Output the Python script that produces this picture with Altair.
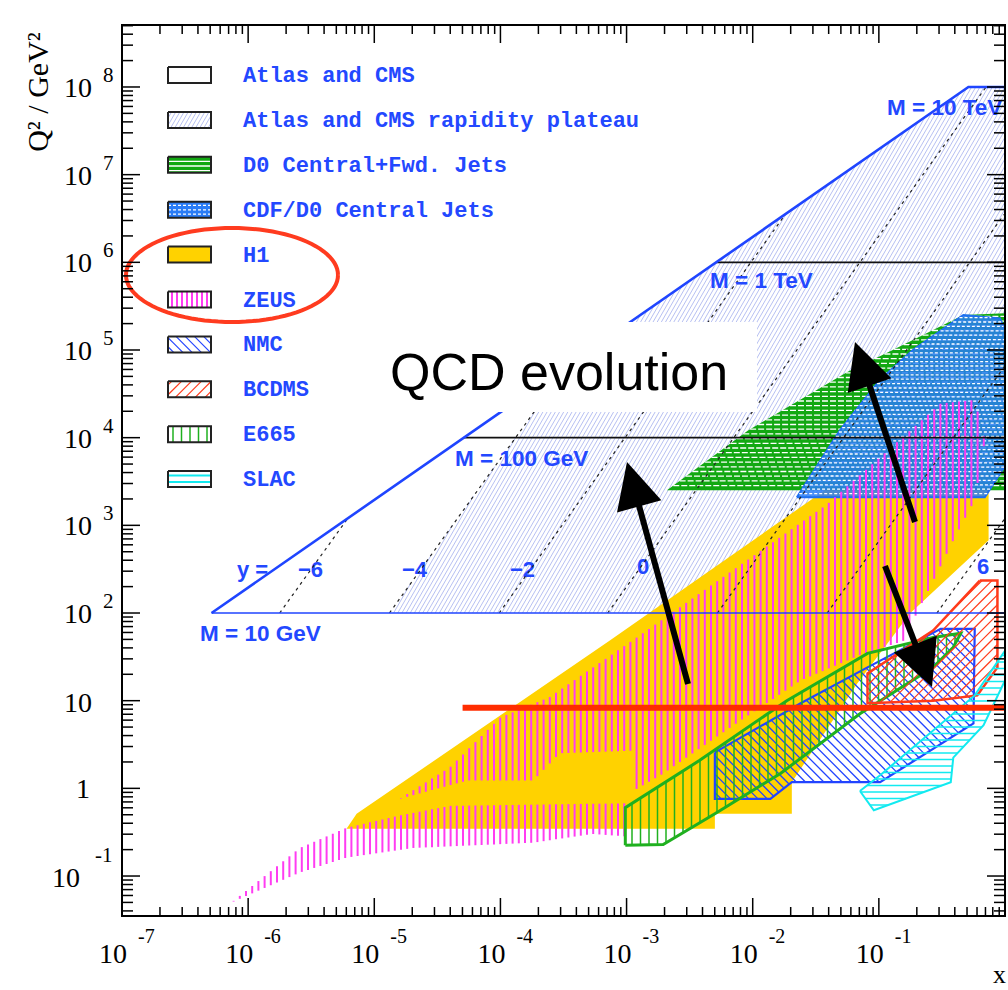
import numpy as np
import pandas as pd
import altair as alt

# ---------------- axis ranges (log10 units) ----------------
XMIN, XMAX = -7.0, 0.0
YMIN, YMAX = -1.456, 8.707
W, H = 883, 891
LEFT, TOP = 122, 25

# ---------------- data (log10 x, log10 Q^2) ----------------
PLATEAU_LX = [-4.88, -3.47, -0.29, 0.0, 0.0, -1.41]
PLATEAU_LQ = [2.0, 4.82, 8.0, 8.0, 4.82, 2.0]

H1_LX = [-5.22, -5.14, -3.13, -1.20, -0.13, -0.13, -0.75, -1.17, -1.69, -1.69, -2.30, -2.30]
H1_LQ = [-0.46, -0.29, 1.69, 3.63, 3.63, 2.83, 2.00, 1.20, 0.07, -0.29, -0.29, -0.46]

ZEUS_A_LX = [-4.80, -4.40, -4.00, -3.61, -2.95, -1.41, -0.51, -0.24, -0.16, -0.24, -0.41, -0.54,
             -0.70, -0.79, -1.15, -1.62, -2.10, -2.73, -2.95, -2.95, -3.53, -3.74, -4.26]
ZEUS_A_LQ = [-0.12, 0.24, 0.81, 1.04, 1.69, 3.24, 4.39, 4.43, 3.97, 3.29, 2.83, 2.45,
             2.00, 1.69, 1.52, 1.23, 0.77, 0.15, -0.03, 0.43, 0.40, 0.09, 0.09]
ZEUS_B_LX = [-6.13, -5.59, -5.22, -4.80, -4.40, -2.99, -2.99, -3.27, -3.74, -4.69, -5.22, -5.59]
ZEUS_B_LQ = [-1.30, -0.68, -0.45, -0.31, -0.20, -0.17, -0.55, -0.52, -0.62, -0.68, -0.79, -0.96]

D0_LX = [-2.68, -2.04, -1.25, -0.89, -0.33, 0.0, 0.0]
D0_LQ = [3.40, 4.08, 4.75, 5.00, 5.40, 5.42, 3.40]

CDF_LX = [-1.65, -1.31, -0.99, -0.73, -0.33, -0.04, 0.0, 0.0, -0.16]
CDF_LQ = [3.32, 4.08, 4.66, 5.00, 5.40, 5.36, 5.23, 3.68, 3.32]

E665_LX = [-3.01, -3.01, -2.42, -1.73, -1.09, -0.57, -0.35, -0.41, -0.57, -1.15, -1.78, -2.30, -2.71]
E665_LQ = [-0.65, -0.22, 0.32, 1.00, 1.54, 1.72, 1.77, 1.61, 1.38, 0.85, 0.17, -0.29, -0.64]

NMC_LX = [-2.30, -2.30, -1.86, -1.69, -0.99, -0.25, -0.24, -0.51, -1.09, -1.62]
NMC_LQ = [0.41, -0.12, -0.12, 0.07, 0.07, 0.74, 1.82, 1.82, 1.38, 0.97]

BCDMS_LX = [-0.20, -0.06, -0.06, -0.22, -0.57, -1.09, -1.09, -0.57]
BCDMS_LQ = [2.37, 2.37, 1.38, 1.06, 1.00, 0.97, 1.31, 1.80]

SLAC_LX = [-1.15, -1.04, -0.43, -0.41, -0.17, 0.0, 0.0, -0.24, -0.99]
SLAC_LQ = [-0.03, -0.25, 0.07, 0.35, 0.72, 1.23, 1.57, 1.06, 0.15]

# Atlas/CMS kinematic lines
BLUE_EDGE_LX = [-6.29, -0.29, 0.0]
BLUE_EDGE_LQ = [2.0, 8.0, 8.0]
MASS_LINE_LX0 = [-6.29, -4.29, -2.29]      # M = 10 GeV, 100 GeV, 1 TeV
MASS_LINE_LQ = [2.0, 4.0, 6.0]
RAPIDITY = [-6, -4, -2, 0, 2, 4, 6]
RAP_LX0 = [-5.75, -4.88, -4.01, -3.15, -2.28, -1.41, -0.54]
RAP_LQ0 = [2.0, 2.0, 2.0, 2.0, 2.0, 2.0, 2.0]
RAP_LX1 = [-5.21, -3.47, -1.74, -0.15, 0.0, 0.0, 0.0]
RAP_LQ1 = [3.08, 4.82, 6.55, 8.0, 6.56, 4.82, 3.08]

RED_LINE_LX = [-4.30, 0.0]
RED_LINE_LQ = 0.92

LEGEND_LABELS = ["Atlas and CMS", "Atlas and CMS rapidity plateau", "D0 Central+Fwd. Jets",
                 "CDF/D0 Central Jets", "H1", "ZEUS", "NMC", "BCDMS", "E665", "SLAC"]

X_TICK_EXP = [-7, -6, -5, -4, -3, -2, -1]
Y_TICK_EXP = [2, 3, 4, 5, 6, 7, 8]

# ---------------- colours ----------------
YELLOW = "#ffd200"
MAGENTA = "#ff3cf2"
D0_GREEN = "#12a812"
CDF_BLUE = "#2a7cf6"
NMC_BLUE = "#2244ff"
BCDMS_RED = "#ff3a1a"
E665_GREEN = "#1fb01f"
SLAC_CYAN = "#12eaf0"
PLATEAU_COL = "#b7c0f2"
ATLAS_BLUE = "#1f45ff"
LABEL_BLUE = "#2348ff"
RED_LINE = "#ff2d00"

# ---------------- helpers ----------------
XS = alt.Scale(type="log", domain=[10 ** XMIN, 10 ** XMAX], nice=False)
YS = alt.Scale(type="log", domain=[10 ** YMIN, 10 ** YMAX], nice=False)


def X(f="x"):
    return alt.X(f"{f}:Q", scale=XS, axis=None)


def Y(f="y"):
    return alt.Y(f"{f}:Q", scale=YS, axis=None)


def to_px(lx, lq):
    lx = np.asarray(lx, float)
    lq = np.asarray(lq, float)
    return (lx - XMIN) / (XMAX - XMIN) * W, (YMAX - lq) / (YMAX - YMIN) * H


def px_to_log(px, py):
    px = np.asarray(px, float)
    py = np.asarray(py, float)
    return XMIN + px / W * (XMAX - XMIN), YMAX - py / H * (YMAX - YMIN)


def page_log(px, py):
    return px_to_log(np.asarray(px, float) - LEFT, np.asarray(py, float) - TOP)


def page(px, py):
    a, b = page_log(px, py)
    return 10 ** a, 10 ** b


def poly_df(lx, lq):
    lx = list(lx) + [lx[0]]
    lq = list(lq) + [lq[0]]
    return pd.DataFrame({"x": 10 ** np.array(lx, float), "y": 10 ** np.array(lq, float),
                         "o": np.arange(len(lx))})


def poly_layer(lx, lq, fill=None, stroke=None, sw=1.5, fo=1.0, closed=True):
    kw = {}
    if fill:
        kw["fill"] = fill
        kw["fillOpacity"] = fo
    if stroke:
        kw["stroke"] = stroke
        kw["strokeWidth"] = sw
    else:
        kw["stroke"] = "transparent"
        kw["strokeWidth"] = 0
    df = poly_df(lx, lq) if closed else pd.DataFrame(
        {"x": 10 ** np.array(lx, float), "y": 10 ** np.array(lq, float), "o": np.arange(len(lx))})
    return alt.Chart(df).mark_line(**kw).encode(x=X(), y=Y(), order="o:Q")


def hatch_df(lx, lq, angle, spacing, offset=0.0):
    Xp, Yp = to_px(lx, lq)
    P = np.stack([Xp, Yp], 1)
    th = np.radians(angle)
    d = np.array([np.cos(th), np.sin(th)])
    n = np.array([-np.sin(th), np.cos(th)])
    t = P @ n
    m = len(P)
    rows = []
    k0 = int(np.ceil((t.min() - offset) / spacing))
    k1 = int(np.floor((t.max() - offset) / spacing))
    for k in range(k0, k1 + 1):
        c = offset + k * spacing
        pts = []
        for i in range(m):
            j = (i + 1) % m
            ta, tb = t[i], t[j]
            if (ta <= c < tb) or (tb <= c < ta):
                f = (c - ta) / (tb - ta)
                pts.append(P[i] + f * (P[j] - P[i]))
        pts.sort(key=lambda p: p @ d)
        for q in range(0, len(pts) - 1, 2):
            a, b = pts[q], pts[q + 1]
            la = px_to_log(a[0], a[1])
            lb = px_to_log(b[0], b[1])
            rows.append((10 ** la[0], 10 ** la[1], 10 ** lb[0], 10 ** lb[1]))
    return pd.DataFrame(rows, columns=["x", "y", "x2", "y2"])


def hatch_layer(lx, lq, angle, spacing, color, sw=1.0, dash=None, offset=0.0, opacity=1.0):
    df = hatch_df(lx, lq, angle, spacing, offset)
    kw = dict(color=color, strokeWidth=sw, opacity=opacity)
    if dash:
        kw["strokeDash"] = dash
    return alt.Chart(df).mark_rule(**kw).encode(x=X(), y=Y(), x2="x2:Q", y2="y2:Q")


layers = []

# ---------------- Atlas/CMS rapidity plateau hatch ----------------
layers.append(hatch_layer(PLATEAU_LX, PLATEAU_LQ, -60, 3.6, PLATEAU_COL, 1.0))

# rapidity labels (partly hidden by H1)
ylab_pos = [(237, 577, "y ="), (298, 577, "\u22126"), (402, 577, "\u22124"), (510, 577, "\u22122"),
            (637, 574, "0"), (745, 574, "2"), (860, 574, "4"), (977, 574, "6")]
px_, py_ = page([p[0] for p in ylab_pos], [p[1] for p in ylab_pos])
layers.append(alt.Chart(pd.DataFrame({"x": px_, "y": py_, "t": [p[2] for p in ylab_pos]}))
              .mark_text(align="left", baseline="alphabetic", font="Liberation Sans",
                         fontWeight="bold", fontSize=22, color=LABEL_BLUE)
              .encode(x=X(), y=Y(), text="t:N"))

# ---------------- HERA ----------------
layers.append(poly_layer(H1_LX, H1_LQ, fill=YELLOW))

# ---------------- Tevatron jets ----------------
layers.append(poly_layer(D0_LX, D0_LQ, fill=D0_GREEN))
layers.append(hatch_layer(D0_LX, D0_LQ, 0, 4.7, "white", 1.3, dash=[6, 2]))
layers.append(poly_layer(CDF_LX, CDF_LQ, fill=CDF_BLUE, fo=0.85, stroke="#1e6ff0", sw=2))
layers.append(hatch_layer(CDF_LX, CDF_LQ, 0, 4.4, "white", 1.3, dash=[3, 2], offset=2.2))

# ZEUS vertical stripes
layers.append(hatch_layer(ZEUS_A_LX, ZEUS_A_LQ, 90, 6.2, MAGENTA, 2.0))
layers.append(hatch_layer(ZEUS_B_LX, ZEUS_B_LQ, 90, 6.2, MAGENTA, 2.0))

# ---------------- fixed target ----------------
layers.append(hatch_layer(NMC_LX, NMC_LQ, 45, 6.5, NMC_BLUE, 1.3))
layers.append(poly_layer(NMC_LX, NMC_LQ, stroke=NMC_BLUE, sw=2.2))
layers.append(hatch_layer(E665_LX, E665_LQ, 90, 8.5, E665_GREEN, 1.5))
layers.append(poly_layer(E665_LX, E665_LQ, stroke=E665_GREEN, sw=3))
layers.append(hatch_layer(BCDMS_LX, BCDMS_LQ, -45, 7.0, BCDMS_RED, 1.2))
layers.append(poly_layer(BCDMS_LX, BCDMS_LQ, stroke=BCDMS_RED, sw=2.5))
layers.append(hatch_layer(SLAC_LX, SLAC_LQ, 0, 6.5, SLAC_CYAN, 1.5))
layers.append(poly_layer(SLAC_LX, SLAC_LQ, stroke=SLAC_CYAN, sw=2))

# ---------------- Atlas/CMS lines ----------------
rap_df = pd.DataFrame({"x": 10 ** np.array(RAP_LX0), "y": 10 ** np.array(RAP_LQ0),
                       "x2": 10 ** np.array(RAP_LX1), "y2": 10 ** np.array(RAP_LQ1)})
layers.append(alt.Chart(rap_df).mark_rule(color="#222222", strokeWidth=1.2, strokeDash=[3, 4])
              .encode(x=X(), y=Y(), x2="x2:Q", y2="y2:Q"))
mass_df = pd.DataFrame({"x": 10 ** np.array(MASS_LINE_LX0), "y": 10 ** np.array(MASS_LINE_LQ),
                        "x2": [1.0, 1.0, 1.0], "y2": 10 ** np.array(MASS_LINE_LQ),
                        "c": ["blue", "black", "black"]})
layers.append(alt.Chart(mass_df[mass_df.c == "black"]).mark_rule(color="#111111", strokeWidth=1.6)
              .encode(x=X(), y=Y(), x2="x2:Q", y2="y2:Q"))
layers.append(alt.Chart(mass_df[mass_df.c == "blue"]).mark_rule(color=ATLAS_BLUE, strokeWidth=1.6)
              .encode(x=X(), y=Y(), x2="x2:Q", y2="y2:Q"))
layers.append(poly_layer(BLUE_EDGE_LX, BLUE_EDGE_LQ, stroke=ATLAS_BLUE, sw=2.6, closed=False))

mlab = [(200, 641, "M = 10 GeV"), (455, 466, "M = 100 GeV"), (710, 288, "M = 1 TeV"),
        (887, 115, "M = 10 TeV")]
mx, my = page([p[0] for p in mlab], [p[1] for p in mlab])
layers.append(alt.Chart(pd.DataFrame({"x": mx, "y": my, "t": [p[2] for p in mlab]}))
              .mark_text(align="left", baseline="alphabetic", font="Liberation Sans",
                         fontWeight="bold", fontSize=22.5, color=LABEL_BLUE)
              .encode(x=X(), y=Y(), text="t:N"))

# ---------------- red horizontal line ----------------
layers.append(alt.Chart(pd.DataFrame({"x": [10 ** RED_LINE_LX[0]], "x2": [10 ** RED_LINE_LX[1]],
                                      "y": [10 ** RED_LINE_LQ]}))
              .mark_rule(color=RED_LINE, strokeWidth=6).encode(x=X(), x2="x2:Q", y=Y()))

# ---------------- arrows ----------------
ARROW_TAIL = [(688, 684), (915, 522), (885, 566)]
ARROW_TIP = [(627, 462), (855, 342), (932, 687)]
HEAD = "M0,-1L1,1L-1,1Z"
for (tx, ty), (hx, hy) in zip(ARROW_TAIL, ARROW_TIP):
    dx, dy = hx - tx, hy - ty
    L = np.hypot(dx, dy)
    ux, uy = dx / L, dy / L
    cx, cy = hx - 23 * ux, hy - 23 * uy
    ang = float(np.degrees(np.arctan2(dx, -dy)) % 360)
    ax0, ay0 = page(tx, ty)
    ax1, ay1 = page(cx, cy)
    layers.append(alt.Chart(pd.DataFrame({"x": [ax0], "y": [ay0], "x2": [ax1], "y2": [ay1]}))
                  .mark_rule(color="black", strokeWidth=6)
                  .encode(x=X(), y=Y(), x2="x2:Q", y2="y2:Q"))
    layers.append(alt.Chart(pd.DataFrame({"x": [ax1], "y": [ay1]}))
                  .mark_point(shape=HEAD, size=2116, filled=True, color="black", opacity=1,
                              angle=ang)
                  .encode(x=X(), y=Y()))

# ---------------- QCD evolution box ----------------
bx0, by0 = page(378, 322)
bx1, by1 = page(757, 412)
layers.append(alt.Chart(pd.DataFrame({"x": [bx0], "x2": [bx1], "y": [by0], "y2": [by1]}))
              .mark_rect(color="white", opacity=1).encode(x=X(), x2="x2:Q", y=Y(), y2="y2:Q"))
qx, qy = page(390, 390)
layers.append(alt.Chart(pd.DataFrame({"x": [qx], "y": [qy], "t": ["QCD evolution"]}))
              .mark_text(align="left", baseline="alphabetic", font="Liberation Sans",
                         fontSize=52, color="black")
              .encode(x=X(), y=Y(), text="t:N"))

# ---------------- legend ----------------
SW_X0, SW_X1 = 168, 211
for i, lab in enumerate(LEGEND_LABELS):
    cy = 75 + 44.9 * i
    rlx, rlq = page_log([SW_X0, SW_X1, SW_X1, SW_X0], [cy - 8, cy - 8, cy + 8, cy + 8])
    rlx, rlq = list(rlx), list(rlq)
    if i == 0:
        layers.append(poly_layer(rlx, rlq, fill="white"))
    elif i == 1:
        layers.append(hatch_layer(rlx, rlq, -60, 3.6, PLATEAU_COL, 1.0))
    elif i == 2:
        layers.append(poly_layer(rlx, rlq, fill=D0_GREEN))
        layers.append(hatch_layer(rlx, rlq, 0, 4.7, "white", 1.3))
    elif i == 3:
        layers.append(poly_layer(rlx, rlq, fill=CDF_BLUE))
        layers.append(hatch_layer(rlx, rlq, 0, 4.4, "white", 1.3, dash=[3, 2]))
    elif i == 4:
        layers.append(poly_layer(rlx, rlq, fill=YELLOW))
    elif i == 5:
        layers.append(hatch_layer(rlx, rlq, 90, 5.0, MAGENTA, 2.0))
    elif i == 6:
        layers.append(hatch_layer(rlx, rlq, 45, 6.5, NMC_BLUE, 1.2))
    elif i == 7:
        layers.append(hatch_layer(rlx, rlq, -45, 7.0, BCDMS_RED, 1.2))
    elif i == 8:
        layers.append(hatch_layer(rlx, rlq, 90, 8.5, E665_GREEN, 1.5))
    elif i == 9:
        layers.append(hatch_layer(rlx, rlq, 0, 6.5, SLAC_CYAN, 2.0, offset=2))
    layers.append(poly_layer(rlx, rlq, stroke="#222222", sw=2))
lgx, lgy = page([243] * len(LEGEND_LABELS), [75 + 44.9 * i for i in range(len(LEGEND_LABELS))])
layers.append(alt.Chart(pd.DataFrame({"x": lgx, "y": lgy, "t": LEGEND_LABELS}))
              .mark_text(align="left", baseline="middle", font="Liberation Mono", fontWeight="bold",
                         fontSize=22, color=LABEL_BLUE)
              .encode(x=X(), y=Y(), text="t:N"))

# ---------------- red ellipse ----------------
tt = np.linspace(0, 2 * np.pi, 97)
ex_, ey_ = page(232 + 106 * np.cos(tt), 275 + 47 * np.sin(tt))
layers.append(alt.Chart(pd.DataFrame({"x": ex_, "y": ey_, "o": np.arange(len(tt))}))
              .mark_line(color="#ff3b1f", strokeWidth=4).encode(x=X(), y=Y(), order="o:Q"))

# ---------------- axes (frame, inward ticks, labels) ----------------
x_major = [10.0 ** d for d in range(-7, 1)]
x_minor = [k * 10.0 ** d for d in range(-7, 0) for k in range(2, 10)]
y_major = [10.0 ** d for d in range(-1, 9)]
y_minor = [k * 10.0 ** d for d in range(-2, 9) for k in range(2, 10)
           if YMIN < np.log10(k * 10.0 ** d) < YMAX]

for vals, ln in ((x_major, 18), (x_minor, 9)):
    df = pd.DataFrame({"v": vals})
    layers.append(alt.Chart(df).mark_rule(color="black", strokeWidth=1.5)
                  .encode(x=X("v"), y=alt.value(H), y2=alt.value(H - ln)))
    layers.append(alt.Chart(df).mark_rule(color="black", strokeWidth=1.5)
                  .encode(x=X("v"), y=alt.value(0), y2=alt.value(ln)))
for vals, ln in ((y_major, 18), (y_minor, 11)):
    df = pd.DataFrame({"v": vals})
    layers.append(alt.Chart(df).mark_rule(color="black", strokeWidth=1.5)
                  .encode(y=Y("v"), x=alt.value(0), x2=alt.value(ln)))
    layers.append(alt.Chart(df).mark_rule(color="black", strokeWidth=1.5)
                  .encode(y=Y("v"), x=alt.value(W), x2=alt.value(W - ln)))

layers.append(alt.Chart(pd.DataFrame({"x": [10 ** XMIN], "x2": [10 ** XMAX],
                                      "y": [10 ** YMIN], "y2": [10 ** YMAX]}))
              .mark_rect(filled=False, stroke="black", strokeWidth=2)
              .encode(x=X(), x2="x2:Q", y=Y(), y2="y2:Q"))

SERIF = "Liberation Serif"
xl = pd.DataFrame({"v": [10.0 ** e for e in X_TICK_EXP], "t": ["10"] * len(X_TICK_EXP),
                   "e": [str(e) for e in X_TICK_EXP]})
layers.append(alt.Chart(xl).mark_text(align="right", baseline="alphabetic", dx=5, font=SERIF,
                                      fontSize=28, color="black")
              .encode(x=X("v"), y=alt.value(938), text="t:N"))
layers.append(alt.Chart(xl).mark_text(align="left", baseline="alphabetic", dx=16, font=SERIF,
                                      fontSize=20, color="black")
              .encode(x=X("v"), y=alt.value(918), text="e:N"))

yl = pd.DataFrame({"v": [10.0 ** e for e in Y_TICK_EXP], "t": ["10"] * len(Y_TICK_EXP),
                   "e": [str(e) for e in Y_TICK_EXP]})
layers.append(alt.Chart(yl).mark_text(align="right", baseline="alphabetic", dy=10, font=SERIF,
                                      fontSize=28, color="black")
              .encode(y=Y("v"), x=alt.value(-30), text="t:N"))
layers.append(alt.Chart(yl).mark_text(align="left", baseline="alphabetic", dy=-5, font=SERIF,
                                      fontSize=21, color="black")
              .encode(y=Y("v"), x=alt.value(-19), text="e:N"))
layers.append(alt.Chart(pd.DataFrame({"v": [10.0], "t": ["10"]}))
              .mark_text(align="right", baseline="alphabetic", dy=11, font=SERIF, fontSize=28,
                         color="black").encode(y=Y("v"), x=alt.value(-30), text="t:N"))
layers.append(alt.Chart(pd.DataFrame({"v": [1.0], "t": ["1"]}))
              .mark_text(align="right", baseline="alphabetic", dy=10, font=SERIF, fontSize=28,
                         color="black").encode(y=Y("v"), x=alt.value(-32), text="t:N"))
layers.append(alt.Chart(pd.DataFrame({"v": [0.1], "t": ["10"]}))
              .mark_text(align="right", baseline="alphabetic", dy=11, font=SERIF, fontSize=28,
                         color="black").encode(y=Y("v"), x=alt.value(-42), text="t:N"))
layers.append(alt.Chart(pd.DataFrame({"v": [0.1], "t": ["-1"]}))
              .mark_text(align="left", baseline="alphabetic", dy=-14, font=SERIF, fontSize=21,
                         color="black").encode(y=Y("v"), x=alt.value(-27), text="t:N"))

# axis titles
layers.append(alt.Chart(pd.DataFrame({"t": ["Q\u00b2 / GeV\u00b2"]}))
              .mark_text(angle=270, align="center", baseline="alphabetic", font=SERIF,
                         fontSize=30, color="black")
              .encode(x=alt.value(-74), y=alt.value(67), text="t:N"))
layers.append(alt.Chart(pd.DataFrame({"t": ["x"]}))
              .mark_text(align="left", baseline="alphabetic", font=SERIF, fontSize=26,
                         color="black")
              .encode(x=alt.value(871), y=alt.value(958), text="t:N"))

chart = alt.layer(*layers).properties(
    width=W, height=H,
    autosize=alt.AutoSizeParams(type="none"),
    padding={"left": LEFT, "top": TOP, "right": 3, "bottom": 74},
).configure_view(stroke=None)

chart.save("out.html", embed_options={"renderer": "svg", "actions": False})
